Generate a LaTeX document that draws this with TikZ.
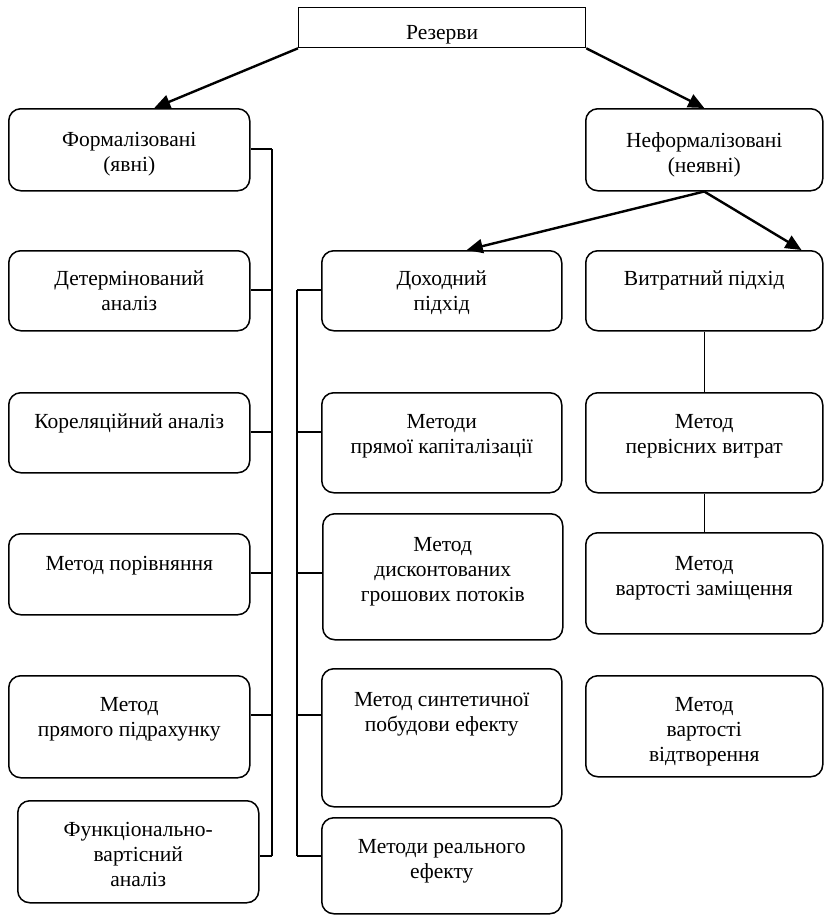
\documentclass[tikz,border=0pt]{standalone}
\usepackage{fontspec}
\setmainfont{Liberation Serif}
\usetikzlibrary{positioning,arrows.meta}

\tikzset{
  box/.style={draw,rounded corners=12pt,line width=1.5pt,anchor=north west,inner sep=0pt},
  txt/.style={align=center,inner sep=0pt,font=\fontsize{21.5}{25}\selectfont},
  link/.style={line width=1.3pt},
  arr/.style={line width=2.4pt,-{Triangle[length=16pt,width=14pt]}}
}

\begin{document}
\begin{tikzpicture}[x=1pt,y=-1pt]
\useasboundingbox (0,0) rectangle (823,916);

% top
\node[draw,line width=1.3pt,anchor=north west,inner sep=0pt,minimum width=287pt,minimum height=40pt] (rez) at (298,7) {};
\node[txt,below=18pt of rez.north] (rez_t) {Резерви};

% left column
\node[box,minimum width=241pt,minimum height=82pt] (form) at (8,108) {};
\node[box,minimum width=241pt,minimum height=80pt] (det) at (8,250) {};
\node[box,minimum width=241pt,minimum height=80pt] (kor) at (8,392) {};
\node[box,minimum width=241pt,minimum height=81pt] (por) at (8,533) {};
\node[box,minimum width=241pt,minimum height=102pt] (pidr) at (8,675) {};
\node[box,minimum width=241pt,minimum height=102pt] (funk) at (17,800) {};

\node[txt,below=24pt of form.north] (form_t) {Формалізовані\\(явні)};
\node[txt,below=21pt of det.north] (det_t) {Детермінований\\аналіз};
\node[txt,below=22pt of kor.north] (kor_t) {Кореляційний аналіз};
\node[txt,below=23pt of por.north] (por_t) {Метод порівняння};
\node[txt,below=22pt of pidr.north] (pidr_t) {Метод\\прямого підрахунку};
\node[txt,below=22pt of funk.north] (funk_t) {Функціонально-\\вартісний\\аналіз};

% middle column
\node[box,minimum width=240pt,minimum height=80pt] (dokh) at (321,250) {};
\node[box,minimum width=240pt,minimum height=100pt] (kap) at (321,392) {};
\node[box,minimum width=240pt,minimum height=126pt] (disk) at (322,513) {};
\node[box,minimum width=240pt,minimum height=138pt] (synt) at (321,668) {};
\node[box,minimum width=240pt,minimum height=96pt] (real) at (321,817) {};

\node[txt,below=21pt of dokh.north] (dokh_t) {Доходний\\підхід};
\node[txt,below=22pt of kap.north] (kap_t) {Методи\\прямої капіталізації};
\node[txt,below=24pt of disk.north] (disk_t) {Метод\\дисконтованих\\грошових потоків};
\node[txt,below=24pt of synt.north] (synt_t) {Метод синтетичної\\побудови ефекту};
\node[txt,below=22pt of real.north] (real_t) {Методи реального\\ефекту};

% right column
\node[box,minimum width=237pt,minimum height=82pt] (neform) at (585,108) {};
\node[box,minimum width=237pt,minimum height=80pt] (vytr) at (585,250) {};
\node[box,minimum width=237pt,minimum height=100pt] (perv) at (585,392) {};
\node[box,minimum width=237pt,minimum height=101pt] (zam) at (585,532) {};
\node[box,minimum width=237pt,minimum height=101pt] (vidt) at (585,675) {};

\node[txt,below=24pt of neform.north] (neform_t) {Неформалізовані\\(неявні)};
\node[txt,below=21pt of vytr.north] (vytr_t) {Витратний підхід};
\node[txt,below=22pt of perv.north] (perv_t) {Метод\\первісних витрат};
\node[txt,below=24pt of zam.north] (zam_t) {Метод\\вартості заміщення};
\node[txt,below=22pt of vidt.north] (vidt_t) {Метод\\вартості\\відтворення};

% trunks
\foreach \y [count=\i] in {149,290,432,573,715,856} {
  \coordinate (l\i) at (272,\y);
  \coordinate (m\i) at (297,\y);
}
\draw[link] (l1) -- (l6);
\foreach \i/\n in {1/form,2/det,3/kor,4/por,5/pidr,6/funk}
  \draw[link] (l\i) -- (l\i -| \n.east);
\draw[link] (m2) -- (m6);
\foreach \i/\n in {2/dokh,3/kap,4/disk,5/synt,6/real}
  \draw[link] (m\i) -- (m\i -| \n.west);
\draw[link] (vytr.south) -- (perv.north);
\draw[link] (perv.south) -- (zam.north);

% arrows
\draw[arr] (rez.south west) -- ([xshift=25pt]form.north);
\draw[arr] (rez.south east) -- (neform.north);
\draw[arr] (neform.south) -- ([xshift=25pt]dokh.north);
\draw[arr] (neform.south) -- ([xshift=-22pt]vytr.north east);
\end{tikzpicture}
\end{document}
